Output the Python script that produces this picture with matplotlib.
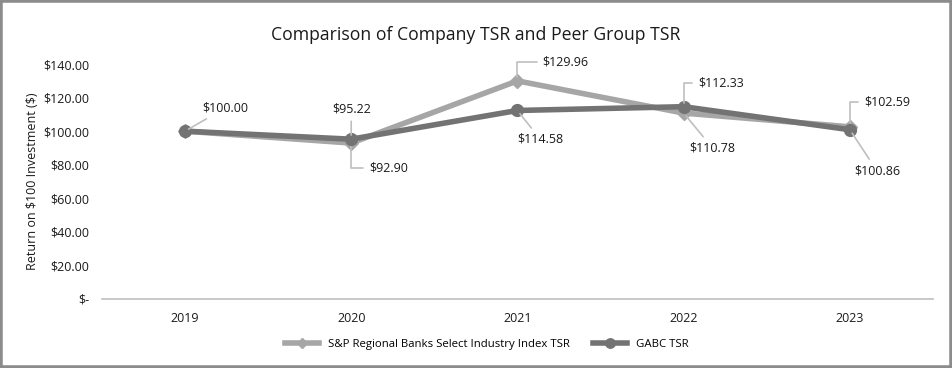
"""Comparison of Company TSR and Peer Group TSR."""
import matplotlib
matplotlib.use("Agg")
import matplotlib.pyplot as plt
from matplotlib.patches import Rectangle
from matplotlib.ticker import FuncFormatter

matplotlib.rcParams.update({
    "font.family": ["Open Sans", "DejaVu Sans"], "font.size": 9,
})

years = ["2019", "2020", "2021", "2022", "2023"]
sp_tsr = [100.00, 92.90, 129.96, 110.78, 102.59]
gabc_tsr = [100.00, 95.22, 112.33, 114.58, 100.86]
# label texts as printed next to each point in the original
sp_labels = [None, "$92.90", "$129.96", "$110.78", "$102.59"]
gabc_labels = ["$100.00", "$95.22", "$114.58", "$112.33", "$100.86"]

LIGHT = "#a6a6a6"
DARK = "#737373"
LEADER = "#bfbfbf"

fig = plt.figure(figsize=(9.52, 3.68), dpi=100)
ax = fig.add_axes([0.107, 0.1875, 0.873, 0.6385])

x = list(range(len(years)))
ax.plot(x, sp_tsr, "-D", color=LIGHT, linewidth=4, markersize=7,
        label="S&P Regional Banks Select Industry Index TSR", zorder=3)
ax.plot(x, gabc_tsr, "-o", color=DARK, linewidth=4, markersize=8.5,
        label="GABC TSR", zorder=4)

# label offsets in pixels (dx, dy) and whether the leader is an elbow
sp_off = [None, (37, -25, True), (48, 19, True), (29, -35, False), (37, 25, True)]
gabc_off = [(40, 23, False), (0, 30, False), (23, -29, False), (37, 24, True), (27, -41, False)]

def label_points(values, labels, offsets):
    for i, (v, lab, off) in enumerate(zip(values, labels, offsets)):
        if lab is None:
            continue
        dx, dy, elbow = off
        conn = "angle,angleA=0,angleB=90,rad=0" if elbow else "arc3"
        ax.annotate(lab.replace("$", r"\$"), xy=(i, v), xytext=(dx, dy),
                    textcoords="offset pixels", ha="center", va="center",
                    fontsize=9, color="#1a1a1a",
                    arrowprops=dict(arrowstyle="-", color=LEADER, lw=1.2,
                                    connectionstyle=conn, shrinkA=2, shrinkB=3),
                    zorder=6)

label_points(sp_tsr, sp_labels, sp_off)
label_points(gabc_tsr, gabc_labels, gabc_off)

ax.set_xlim(-0.5, len(years) - 0.5)
ax.set_ylim(0, 140)
ax.set_yticks(range(0, 141, 20))
ax.yaxis.set_major_formatter(FuncFormatter(
    lambda v, p: r"\$-" if v == 0 else r"\$%.2f" % v))
ax.set_xticks(x)
ax.set_xticklabels(years)
ax.tick_params(length=0, labelsize=9, colors="#1a1a1a")
ax.tick_params(axis="y", pad=9)
ax.tick_params(axis="x", pad=9)
for side in ["top", "right", "left"]:
    ax.spines[side].set_visible(False)
ax.spines["bottom"].set_color("#bfbfbf")
ax.spines["bottom"].set_linewidth(1.2)

ax.set_ylabel(r"Return on \$100 Investment (\$)", fontsize=9, color="#1a1a1a")
ax.yaxis.set_label_coords(-0.076, 0.5)

fig.suptitle("Comparison of Company TSR and Peer Group TSR", fontsize=12.7,
             y=0.93, color="#1a1a1a")

ax.legend(loc="center", bbox_to_anchor=(0.463, -0.195), ncol=2, frameon=False,
          fontsize=8.2, handlelength=3.0, columnspacing=2.0, markerscale=0.8)

fig.add_artist(Rectangle((0, 0), 1, 1, transform=fig.transFigure, fill=False,
                         edgecolor="#8c8c8c", linewidth=4))

fig.savefig("out.png", dpi=100)
